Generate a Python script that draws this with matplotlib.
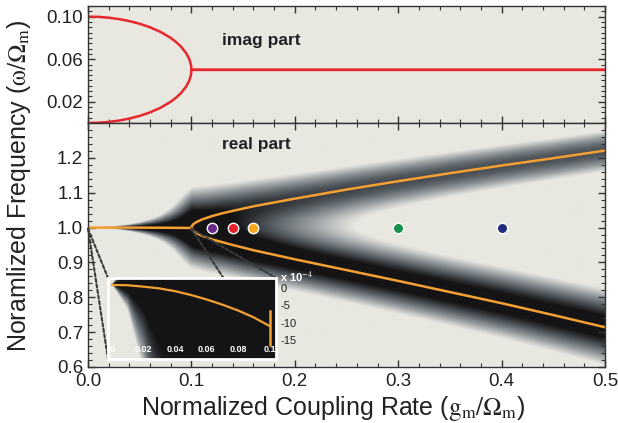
import numpy as np
import matplotlib
matplotlib.use('Agg')
from matplotlib import pyplot as plt
from matplotlib.colors import LinearSegmentedColormap
from matplotlib.patches import ConnectionPatch
from matplotlib.ticker import MultipleLocator, FixedLocator

plt.rcParams['font.family'] = ['Liberation Sans', 'DejaVu Sans']
plt.rcParams['mathtext.fontset'] = 'stix'
plt.rcParams['axes.unicode_minus'] = False

# imaginary part of the two eigenfrequencies
g_imag = [0, 0.01, 0.02, 0.03, 0.04, 0.05, 0.06, 0.07, 0.08, 0.085, 0.09,
          0.095, 0.098, 0.0995, 0.0999, 0.1, 0.5]
im_upper = [0.1, 0.0998, 0.099, 0.0977, 0.0958, 0.0933, 0.09, 0.0857, 0.08,
            0.0763, 0.0718, 0.0656, 0.06, 0.055, 0.0522, 0.05, 0.05]
im_lower = [0.0, 0.0003, 0.001, 0.0023, 0.0042, 0.0067, 0.01, 0.0143, 0.02,
            0.0237, 0.0282, 0.0344, 0.04, 0.045, 0.0478, 0.05, 0.05]

# real part below the exceptional point (inset, units of 1e-4 from 1)
g_below = [0, 0.01, 0.02, 0.03, 0.04, 0.05, 0.06, 0.07, 0.08, 0.09, 0.1]
dw_below = [0.9, 0.8, 0.4, -0.1, -0.9, -2.0, -3.3, -4.8, -6.5, -8.5, -11.0]
g_jump = [0.1, 0.1]
dw_jump = [-6.5, -16.5]

# real part above the exceptional point
g_split = [0.1, 0.1005, 0.102, 0.105, 0.11, 0.12, 0.13, 0.14, 0.16, 0.18,
           0.2, 0.25, 0.3, 0.35, 0.4, 0.45, 0.5]
re_upper = [0.999, 1.005, 1.010, 1.016, 1.023, 1.033, 1.041, 1.048, 1.061,
            1.072, 1.083, 1.109, 1.133, 1.156, 1.178, 1.199, 1.221]
re_lower = [0.999, 0.995, 0.990, 0.984, 0.977, 0.966, 0.958, 0.950, 0.935,
            0.922, 0.909, 0.878, 0.847, 0.815, 0.783, 0.749, 0.714]

# marked coupling rates
dot_g = [0.12, 0.14, 0.16, 0.3, 0.4]
dot_w = [1.0, 1.0, 1.0, 1.0, 1.0]
dot_colors = ['#6a2c8c', '#e81f2c', '#f5a81c', '#15904a', '#222c7c']

BG = '#e8e8e1'
ORANGE = '#f5a033'
RED = '#e8262d'


def darkness(G, W):
    # spectral density built from the two modes read above
    below = G < 0.1
    frac = np.clip(G / 0.1, 0, 1)
    shift = 1 + np.interp(G, g_below, dw_below) * 1e-4
    r_lo = np.where(below, shift, np.interp(G, g_split, re_lower))
    r_up = np.where(below, shift, np.interp(G, g_split, re_upper))
    spread = np.where(below, 1 + 0.6 * (1 - frac ** 4), 1.0)
    h_lo = spread * np.interp(G, g_imag, im_lower) / r_lo + 1e-12
    h_up = 1.3 * np.interp(G, g_imag, im_upper) / r_up + 1e-12
    w_up = np.where(below, 0.6 * frac ** 6, 0.6)
    l_lo = 1 / (1 + ((W - r_lo) / h_lo) ** 2)
    l_up = 1 / (1 + ((W - r_up) / h_up) ** 2)
    d = l_lo + w_up * l_up
    return np.clip(0.8 + 0.94 * (np.log(d + 1e-12) + 0.38), 0, 1)


cmap = LinearSegmentedColormap.from_list(
    'spec', [(0.0, BG), (0.33, '#969ca0'), (0.67, '#52595e'), (1.0, '#141416')])

fig = plt.figure(figsize=(6.18, 4.23), dpi=100)
ax_im = fig.add_axes([0.1424, 0.7092, 0.8366, 0.2766])
ax_re = fig.add_axes([0.1424, 0.1324, 0.8366, 0.5768])

for ax in (ax_im, ax_re):
    ax.set_xlim(0, 0.5)
    ax.xaxis.set_major_locator(MultipleLocator(0.1))
    ax.xaxis.set_minor_locator(MultipleLocator(0.02))
    ax.tick_params(which='both', direction='in', top=True, right=True,
                   colors='#333333', labelcolor='#222222', labelsize=13.5)
    ax.tick_params(which='major', length=5, width=1)
    ax.tick_params(which='minor', length=3, width=0.8)
    for s in ax.spines.values():
        s.set_color('#333333')
        s.set_linewidth(1.0)

# upper panel: imaginary part
ax_im.set_facecolor(BG)
ax_im.plot(g_imag, im_upper, color=RED, lw=1.8, solid_capstyle='round')
ax_im.plot(g_imag, im_lower, color=RED, lw=1.8, solid_capstyle='round')
ax_im.set_ylim(0, 0.11)
ax_im.yaxis.set_major_locator(FixedLocator([0.02, 0.06, 0.10]))
ax_im.yaxis.set_minor_locator(MultipleLocator(0.005))
ax_im.yaxis.set_major_formatter(plt.FormatStrFormatter('%.2f'))
ax_im.tick_params(axis='x', labelbottom=False)
ax_im.text(0.168, 0.078, 'imag part', fontsize=12.5, fontweight='bold',
           ha='center', va='center', color='#222222')

# lower panel: real part over spectrum
gg, ww = np.meshgrid(np.linspace(0, 0.5, 600), np.linspace(0.6, 1.3, 500))
ax_re.imshow(darkness(gg, ww), extent=[0, 0.5, 0.6, 1.3], origin='lower',
             aspect='auto', cmap=cmap, vmin=0, vmax=1, interpolation='bilinear')
ax_re.plot(g_below, 1 + np.array(dw_below) * 1e-4, color=ORANGE, lw=1.8)
ax_re.plot(g_split, re_upper, color=ORANGE, lw=1.8)
ax_re.plot(g_split, re_lower, color=ORANGE, lw=1.8)
for x, y, c in zip(dot_g, dot_w, dot_colors):
    ax_re.plot(x, y, 'o', ms=7.5, mfc=c, mec='white', mew=1.0, zorder=5)
ax_re.set_ylim(0.6, 1.3)
ax_re.set_xlim(0, 0.5)
ax_re.yaxis.set_major_locator(FixedLocator([0.6, 0.7, 0.8, 0.9, 1.0, 1.1, 1.2]))
ax_re.yaxis.set_minor_locator(MultipleLocator(0.02))
ax_re.yaxis.set_major_formatter(plt.FormatStrFormatter('%.1f'))
ax_re.xaxis.set_major_formatter(plt.FormatStrFormatter('%.1f'))
ax_re.tick_params(axis='x', pad=4.5)
ax_re.text(0.163, 1.239, 'real part', fontsize=12.5, fontweight='bold',
           ha='center', va='center', color='#222222')

# inset: zoom of the real part below the exceptional point
ax_in = fig.add_axes([0.1748, 0.1513, 0.2718, 0.1915])
ax_in.set_zorder(4)
gi, wi = np.meshgrid(np.linspace(-0.0025, 0.104, 500), np.linspace(-20.5, 2.9, 300))
ax_in.imshow(darkness(gi, 1 + wi * 1e-4), extent=[-0.0025, 0.104, -20.5, 2.9],
             origin='lower', aspect='auto', cmap=cmap, vmin=0, vmax=1,
             interpolation='bilinear')
ax_in.plot(g_below, dw_below, color=ORANGE, lw=1.6)
ax_in.plot(g_jump, dw_jump, color=ORANGE, lw=1.8)
ax_in.set_xlim(-0.0025, 0.104)
ax_in.set_ylim(-20.5, 2.9)
ax_in.xaxis.set_major_locator(FixedLocator([0, 0.02, 0.04, 0.06, 0.08, 0.1]))
ax_in.set_xticklabels(['0', '0.02', '0.04', '0.06', '0.08', '0.1'])
ax_in.yaxis.set_major_locator(FixedLocator([0, -5, -10, -15]))
ax_in.set_yticklabels(['0', '-5', '-10', '-15'])
ax_in.yaxis.tick_right()
ax_in.tick_params(axis='x', direction='in', length=0, pad=-10, labelsize=6.5,
                  labelcolor='white')
for lab in ax_in.get_xticklabels():
    lab.set_fontweight('bold')
ax_in.tick_params(axis='y', direction='in', length=0, pad=3, labelsize=8,
                  labelcolor='#222222')
for s in ax_in.spines.values():
    s.set_color('white')
    s.set_linewidth(2)
ax_in.text(1.025, 1.01, r'x 10$^{-4}$', transform=ax_in.transAxes, color='white',
           fontsize=8, fontweight='bold', ha='left', va='center')

# dashed guide lines to the inset
for xa, ya, xb, yb in [(0, 0.997, 0, 1), (0, 0.997, 0, 0), (0.1, 0.997, 1, 1), (0.1, 0.997, 1, 0)]:
    con = ConnectionPatch(xyA=(xa, ya), coordsA=ax_re.transData,
                          xyB=(xb, yb), coordsB=ax_in.transAxes,
                          color='#3a3a3a', lw=1.5, linestyle=(0, (1.6, 1.1)))
    con.set_zorder(2)
    fig.add_artist(con)

fig.text(0.03, 0.56, r'Noramlized Frequency ($\mathrm{\omega/\Omega_m}$)',
         rotation=90, ha='center', va='center', fontsize=18, color='#222222')
fig.text(0.54, 0.035, r'Normalized Coupling Rate ($\mathrm{g_m/\Omega_m}$)',
         ha='center', va='center', fontsize=18, color='#222222')

fig.savefig('out.png', dpi=100, facecolor='white')
